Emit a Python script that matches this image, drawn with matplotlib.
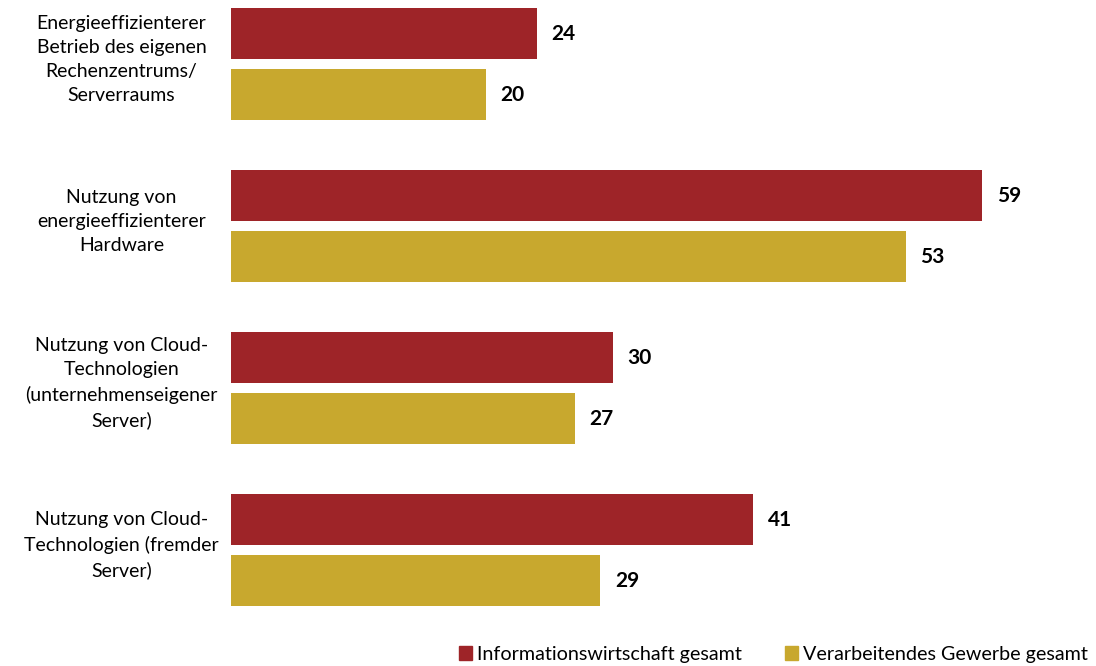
import matplotlib
matplotlib.use("Agg")
import matplotlib.pyplot as plt
from matplotlib.patches import Patch
import numpy as np

plt.rcParams['font.family'] = ['Lato', 'DejaVu Sans']

categories = [
    "Energieeffizienterer\nBetrieb des eigenen\nRechenzentrums/\nServerraums",
    "Nutzung von\nenergieeffizienterer\nHardware",
    "Nutzung von Cloud-\nTechnologien\n(unternehmenseigener\nServer)",
    "Nutzung von Cloud-\nTechnologien (fremder\nServer)",
]
series_names = ["Informationswirtschaft gesamt", "Verarbeitendes Gewerbe gesamt"]
info_values = [24, 59, 30, 41]
verarb_values = [20, 53, 27, 29]
colors = ["#9E2428", "#C8A82E"]

fig = plt.figure(figsize=(10.96, 6.66), dpi=100)
ax = fig.add_axes([231 / 1096, 1 - 634 / 666, 764 / 1096, 634 / 666])

y = np.arange(len(categories))
h = 51 / 162
off = 30.5 / 162

for vals, col, sgn in [(info_values, colors[0], -1), (verarb_values, colors[1], 1)]:
    bars = ax.barh(y + sgn * off, vals, height=h, color=col)
    for b, v in zip(bars, vals):
        ax.text(v + 1.15, b.get_y() + b.get_height() / 2 + 0.005, str(v),
                ha='left', va='center', fontsize=15, fontweight='bold',
                clip_on=False)

ax.set_xlim(0, 60)
ax.set_ylim(3.519, -0.395)
ax.axis('off')

for i, lab in enumerate(categories):
    ax.text(-8.6, i - 0.03, lab, ha='center', va='center', fontsize=14,
            linespacing=1.5, clip_on=False)

handles = [Patch(color=c) for c in colors]
fig.legend(handles, series_names, loc='lower right', bbox_to_anchor=(1.009, -0.022),
           ncol=2, frameon=False, fontsize=14.2, handlelength=0.65, handleheight=0.65,
           handletextpad=0.25, columnspacing=2.2)

fig.savefig("out.png", dpi=100)
